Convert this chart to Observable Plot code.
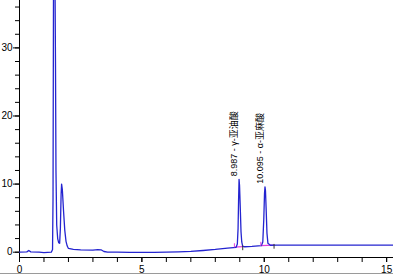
<!DOCTYPE html>
<html><head><meta charset="utf-8">
<script src="https://cdn.jsdelivr.net/npm/d3@7"></script>
<script src="https://cdn.jsdelivr.net/npm/@observablehq/plot@0.6"></script>
<style>
body{margin:0;background:#fff}
#chart{position:relative;width:393px;height:277px;overflow:hidden}
#border{position:absolute;left:0;top:273px;width:393px;height:1px;background:#9a9a9a}
</style>
</head><body><div id="chart"></div><script>
// retention time (min) and detector signal
const times = [0, 0.3, 0.38, 0.46, 0.8, 1.0, 1.3, 1.35, 1.37, 1.39, 1.42, 1.45, 1.47, 1.49, 1.52, 1.56, 1.6, 1.64, 1.67, 1.7, 1.72, 1.75, 1.8, 1.85, 1.9, 1.95, 2.0, 2.2, 2.5, 3.0, 3.2, 3.33, 3.45, 3.6, 4.0, 4.5, 5.0, 5.5, 6.0, 6.5, 7.0, 7.5, 8.0, 8.5, 8.85, 8.9, 8.93, 8.95, 8.97, 8.99, 9.02, 9.05, 9.08, 9.12, 9.2, 9.5, 9.88, 9.94, 9.98, 10.01, 10.03, 10.05, 10.08, 10.11, 10.15, 10.25, 10.5, 11, 12, 13, 14, 15.3];
const signal = [0, 0.05, 0.25, 0.05, 0.0, -0.05, 0.0, 0.4, 8, 40, 48, 40, 28, 12, 4, 2, 1.4, 1.3, 3.5, 8.5, 10.0, 9.2, 6.0, 3.2, 1.6, 0.9, 0.55, 0.42, 0.35, 0.3, 0.38, 0.35, 0.1, 0.02, 0.0, -0.03, -0.04, -0.03, 0.0, 0.05, 0.12, 0.25, 0.4, 0.6, 0.72, 1.2, 3.5, 7.5, 10.7, 9.8, 6.5, 3.0, 1.5, 0.85, 0.8, 0.85, 0.95, 1.5, 4.8, 8.6, 9.6, 9.0, 6.0, 2.8, 1.3, 1.02, 1.04, 1.05, 1.05, 1.05, 1.05, 1.05];

// peak annotations
const peakTimes = [8.97, 10.03];
const peakHeights = [10.7, 9.6];
const peakLabels = ["8.987 - γ-亚油酸", "10.095 - α-亚麻酸"];

// integration baselines
const baseStart = [8.78, 9.86];
const baseEnd = [9.12, 10.4];
const baseStartY = [0.74, 0.95];
const baseEndY = [0.82, 1.04];

const xMajor = [0, 5, 10, 15];
const xMinor = [0, 1, 2, 3, 4, 5, 6, 7, 8, 9, 10, 11, 12, 13, 14, 15];
const yMajor = [0, 10, 20, 30];
const yMinor = [0, 2, 4, 6, 8, 10, 12, 14, 16, 18, 20, 22, 24, 26, 28, 30, 32, 34, 36];
const xDomain = [0, 15.28];
const yDomain = [-0.78, 36.96];

const trace = times.map((t, i) => ({t, v: signal[i]}));
const peaks = peakTimes.map((t, i) => ({t, v: peakHeights[i], label: peakLabels[i]}));
const bases = baseStart.map((s, i) => ({x1: s, x2: baseEnd[i], y1: baseStartY[i], y2: baseEndY[i]}));

const chart = Plot.plot({
  width: 393,
  height: 277,
  marginLeft: 19,
  marginRight: 0,
  marginTop: 0,
  marginBottom: 20,
  style: {fontSize: "10px", fontFamily: "'Liberation Sans', Arial, sans-serif", color: "#000", background: "#fff"},
  x: {domain: xDomain},
  y: {domain: yDomain},
  marks: [
    Plot.axisX({ticks: xMinor, tickSize: 5, tickFormat: () => ""}),
    Plot.axisX({ticks: xMajor, tickSize: 5, tickPadding: 3, tickFormat: d => String(d)}),
    Plot.axisY({ticks: yMinor, tickSize: 4, tickFormat: () => ""}),
    Plot.axisY({ticks: yMajor, tickSize: 6, tickPadding: 1, tickFormat: d => String(d)}),
    Plot.ruleY([yDomain[0]], {stroke: "#000"}),
    Plot.ruleX([xDomain[0]], {stroke: "#000"}),
    Plot.link(bases, {x1: "x1", x2: "x2", y1: "y1", y2: "y2", stroke: "#e040e0", strokeWidth: 1.2}),
    Plot.line(trace, {x: "t", y: "v", stroke: "#2424d0", strokeWidth: 1.3, clip: true}),
    Plot.ruleX(bases, {x: "x2", y1: d => d.y2 - 0.6, y2: d => d.y2 + 0.1, stroke: "#333", strokeWidth: 1}),
    Plot.ruleX(bases, {x: "x1", y1: d => d.y1 - 0.1, y2: d => d.y1 + 0.5, stroke: "#e040e0", strokeWidth: 1}),
    Plot.text(peaks, {x: "t", y: "v", text: "label", rotate: -90, textAnchor: "start", lineAnchor: "middle", dx: -5, dy: -3, fontSize: 9, fill: "#000", fontFamily: "'Liberation Sans', 'Noto Sans CJK SC', sans-serif"})
  ]
});
const el = document.getElementById("chart");
el.appendChild(chart);
const b = document.createElement("div");
b.id = "border";
el.appendChild(b);
</script></body></html>
